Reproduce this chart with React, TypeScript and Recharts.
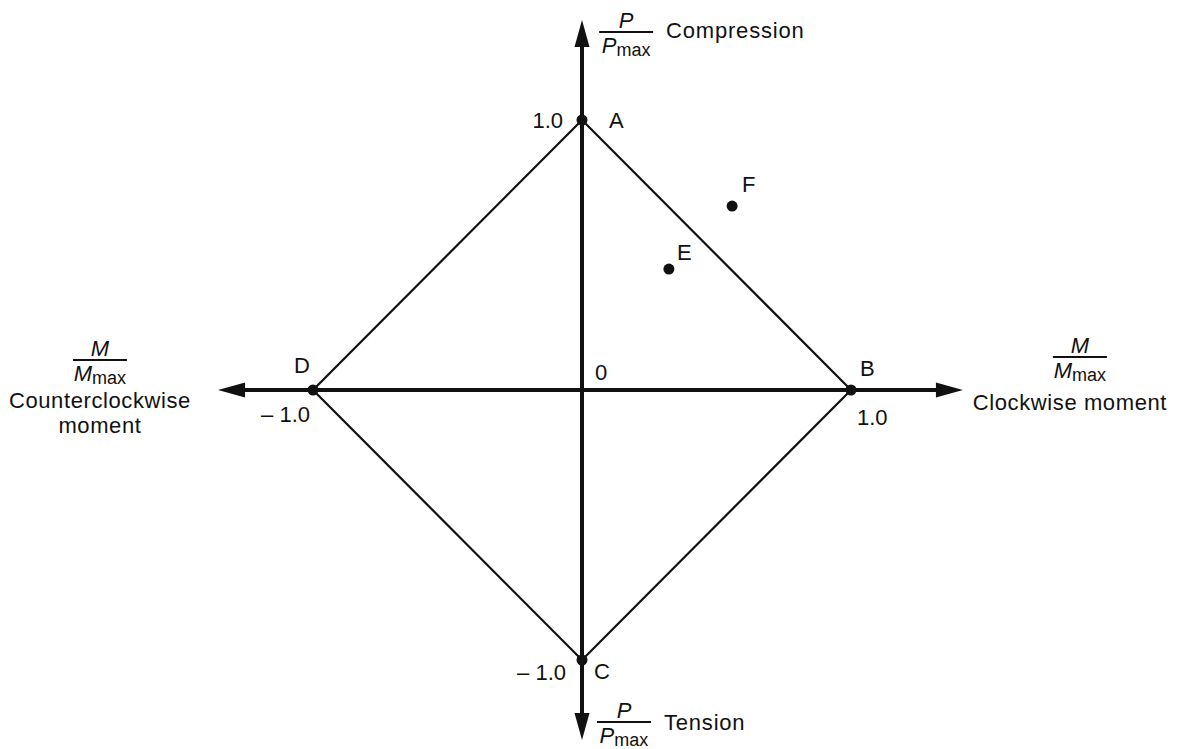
import { ComposedChart, Scatter, XAxis, YAxis } from "recharts";

const INK = "#111111";
const FONT = "'Liberation Sans', Arial, Helvetica, sans-serif";
const FS = 22;

// M/Mmax on x, P/Pmax on y
const diamond = [
  { name: "A", m: 0, p: 1 },
  { name: "B", m: 1, p: 0 },
  { name: "C", m: 0, p: -1 },
  { name: "D", m: -1, p: 0 },
  { name: "A", m: 0, p: 1 },
];
const vertices = diamond.slice(0, 4);
const loadPoints = [
  { name: "E", m: 0.323, p: 0.448 },
  { name: "F", m: 0.558, p: 0.681 },
];
const origin = [{ name: "0", m: 0, p: 0 }];
const tickLabels = [
  { id: "pTop", text: "1.0", m: 0, p: 1 },
  { id: "mRight", text: "1.0", m: 1, p: 0 },
  { id: "mLeft", text: "\u2013 1.0", m: -1, p: 0 },
  { id: "pBottom", text: "\u2013 1.0", m: 0, p: -1 },
];
const horizontalAxis = [
  { m: -1.32, p: 0 },
  { m: 1.38, p: 0 },
];
const verticalAxis = [
  { m: 0, p: -1.26 },
  { m: 0, p: 1.33 },
];
const arrowTips = [
  { dir: "right", m: 1.416, p: 0 },
  { dir: "left", m: -1.353, p: 0 },
  { dir: "up", m: 0, p: 1.37 },
  { dir: "down", m: 0, p: -1.296 },
];
const axisTitles = [
  { id: "compression", letter: "P", caption: "Compression", m: 0.164, p: 1.326 },
  { id: "tension", letter: "P", caption: "Tension", m: 0.156, p: -1.23 },
  { id: "ccw", letter: "M", caption: "Counterclockwise|moment", m: -1.792, p: 0.111 },
  { id: "cw", letter: "M", caption: "Clockwise moment", m: 1.851, p: 0.122 },
];

const LABEL_OFFSETS: Record<string, [number, number]> = {
  A: [27, 8],
  B: [9, -14],
  C: [12, 19],
  D: [-19, -17],
  E: [8, -9],
  F: [10, -14],
  "0": [13, -10],
};

// [dx, dy, anchor]
const TICK_OFFSETS: Record<string, [number, number, string]> = {
  pTop: [-19, 8, "end"],
  mRight: [6, 35, "start"],
  mLeft: [-3, 32, "end"],
  pBottom: [-16, 20, "end"],
};

const Nothing = () => <g />;

function NamedDot(props: any) {
  const { cx, cy, payload } = props;
  const [dx, dy] = LABEL_OFFSETS[payload.name] ?? [8, -8];
  return (
    <g>
      {payload.name !== "0" && <circle cx={cx} cy={cy} r={5.5} fill={INK} />}
      <text x={cx + dx} y={cy + dy} fontFamily={FONT} fontSize={FS} fill={INK}>
        {payload.name}
      </text>
    </g>
  );
}

function TickText(props: any) {
  const { cx, cy, payload } = props;
  const [dx, dy, anchor] = TICK_OFFSETS[payload.id];
  return (
    <text
      x={cx + dx}
      y={cy + dy}
      textAnchor={anchor as any}
      fontFamily={FONT}
      fontSize={FS}
      fill={INK}
    >
      {payload.text}
    </text>
  );
}

function Arrow(props: any) {
  const { cx, cy, payload } = props;
  const L = 27;
  const W = 7.5;
  let pts = "";
  if (payload.dir === "right") pts = `${cx},${cy} ${cx - L},${cy - W} ${cx - L},${cy + W}`;
  if (payload.dir === "left") pts = `${cx},${cy} ${cx + L},${cy - W} ${cx + L},${cy + W}`;
  if (payload.dir === "up") pts = `${cx},${cy} ${cx - W},${cy + L} ${cx + W},${cy + L}`;
  if (payload.dir === "down") pts = `${cx},${cy} ${cx - W},${cy - L} ${cx + W},${cy - L}`;
  return <polygon points={pts} fill={INK} />;
}

function Fraction({ x, y, letter }: { x: number; y: number; letter: string }) {
  return (
    <g fontFamily={FONT} fill={INK}>
      <line x1={x - 27} x2={x + 27} y1={y} y2={y} stroke={INK} strokeWidth={2} />
      <text x={x} y={y - 4} textAnchor="middle" fontSize={FS} fontStyle="italic">
        {letter}
      </text>
      <text x={x} y={y + 21} textAnchor="middle" fontSize={FS}>
        <tspan fontStyle="italic">{letter}</tspan>
        <tspan fontSize={18} dy={3}>max</tspan>
      </text>
    </g>
  );
}

function AxisTitle(props: any) {
  const { cx, cy, payload } = props;
  if (payload.id === "compression" || payload.id === "tension") {
    return (
      <g>
        <Fraction x={cx} y={cy} letter={payload.letter} />
        <text
          x={cx + 40}
          y={cy + (payload.id === "tension" ? 8 : 6)}
          fontFamily={FONT}
          fontSize={FS}
          letterSpacing={0.8}
          fill={INK}
        >
          {payload.caption}
        </text>
      </g>
    );
  }
  const lines = payload.caption.split("|");
  const first = payload.id === "cw" ? 53 : 48;
  const shift = payload.id === "cw" ? -10 : 0;
  return (
    <g>
      <Fraction x={cx} y={cy} letter={payload.letter} />
      {lines.map((t: string, i: number) => (
        <text
          key={t}
          x={cx + shift}
          y={cy + first + i * 25}
          textAnchor="middle"
          fontFamily={FONT}
          fontSize={FS}
          letterSpacing={0.6}
          fill={INK}
        >
          {t}
        </text>
      ))}
    </g>
  );
}

export default function App() {
  return (
    <div style={{ position: "absolute", left: 0, top: 0, background: "#fff" }}>
      <ComposedChart width={1184} height={749} margin={{ top: 0, right: 0, bottom: 0, left: 0 }}>
        <XAxis type="number" dataKey="m" domain={[-2.1636, 2.2379]} hide allowDataOverflow />
        <YAxis type="number" dataKey="p" domain={[-1.3296, 1.4444]} hide allowDataOverflow />
        <Scatter
          data={horizontalAxis}
          line={{ stroke: INK, strokeWidth: 4 }}
          shape={Nothing}
          isAnimationActive={false}
        />
        <Scatter
          data={verticalAxis}
          line={{ stroke: INK, strokeWidth: 4 }}
          shape={Nothing}
          isAnimationActive={false}
        />
        <Scatter
          data={diamond}
          line={{ stroke: INK, strokeWidth: 2.2 }}
          shape={Nothing}
          isAnimationActive={false}
        />
        <Scatter data={arrowTips} shape={Arrow} isAnimationActive={false} />
        <Scatter data={vertices} shape={NamedDot} isAnimationActive={false} />
        <Scatter data={loadPoints} shape={NamedDot} isAnimationActive={false} />
        <Scatter data={origin} shape={NamedDot} isAnimationActive={false} />
        <Scatter data={tickLabels} shape={TickText} isAnimationActive={false} />
        <Scatter data={axisTitles} shape={AxisTitle} isAnimationActive={false} />
      </ComposedChart>
    </div>
  );
}
